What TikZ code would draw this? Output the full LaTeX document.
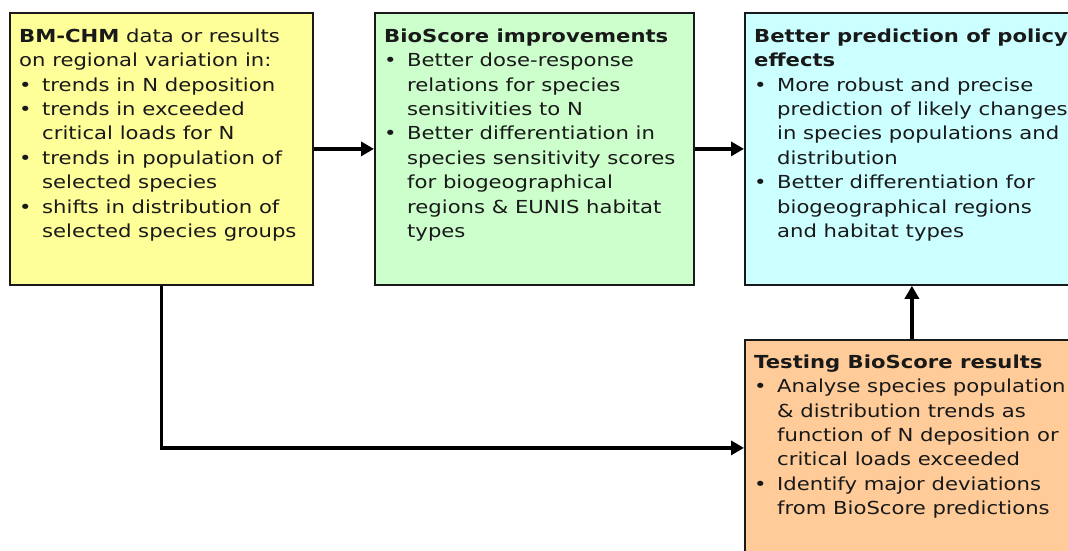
\documentclass[tikz,border=0pt]{standalone}
\usepackage{fontspec}
\setmainfont{DejaVu Sans}[FakeStretch=1.18]
\usetikzlibrary{arrows.meta}
\definecolor{ylw}{HTML}{FFFF99}
\definecolor{grn}{HTML}{CCFFCC}
\definecolor{cyn}{HTML}{CCFFFF}
\definecolor{org}{HTML}{FFCC99}
\newcommand\bitem[1]{\makebox[23bp][l]{•}#1}
\newcommand\cont[1]{\hspace*{23bp}#1}
\begin{document}
\begin{tikzpicture}[x=1bp,y=-1bp,
  box/.style={draw=black!90, line width=1.8bp, anchor=north west, inner sep=0pt},
  txt/.style={anchor=north west, inner sep=0pt, align=left, text=black!90, font=\fontsize{18}{24.5}\selectfont},
  arr/.style={line width=3.5bp, -{Triangle[length=13bp,width=14bp]}}]
\useasboundingbox (0,0) rectangle (1068,551);
\clip (0,0) rectangle (1068,551);
\node[box, fill=ylw, minimum width=303bp, minimum height=272bp] (bm) at (9,12) {};
\node[box, fill=grn, minimum width=319bp, minimum height=272bp] (bs) at (374,12) {};
\node[box, fill=cyn, minimum width=334bp, minimum height=272bp] (cy) at (744,12) {};
\node[box, fill=org, minimum width=334bp, minimum height=216bp] (ts) at (744,339) {};
\node[txt] (t1) at (19,28.5) {\textbf{BM-CHM} data or results\\
on regional variation in:\\
\bitem{trends in N deposition}\\
\bitem{trends in exceeded}\\
\cont{critical loads for N}\\
\bitem{trends in population of}\\
\cont{selected species}\\
\bitem{shifts in distribution of}\\
\cont{selected species groups}};
\node[txt] (t2) at (384,28.5) {\textbf{BioScore improvements}\\
\bitem{Better dose-response}\\
\cont{relations for species}\\
\cont{sensitivities to N}\\
\bitem{Better differentiation in}\\
\cont{species sensitivity scores}\\
\cont{for biogeographical}\\
\cont{regions \& EUNIS habitat}\\
\cont{types}};
\node[txt] (t3) at (754,28.5) {\textbf{Better prediction of policy}\\
\textbf{effects}\\
\bitem{More robust and precise}\\
\cont{prediction of likely changes}\\
\cont{in species populations and}\\
\cont{distribution}\\
\bitem{Better differentiation for}\\
\cont{biogeographical regions}\\
\cont{and habitat types}};
\node[txt] (t4) at (754,354.5) {\textbf{Testing BioScore results}\\
\bitem{Analyse species population}\\
\cont{\& distribution trends as}\\
\cont{function of N deposition or}\\
\cont{critical loads exceeded}\\
\bitem{Identify major deviations}\\
\cont{from BioScore predictions}};
\draw[arr] (bm.east) -- (bs.west);
\draw[arr] (bs.east) -- (cy.west);
\draw[arr] (ts.north) -- (cy.south);
\draw[arr] (bm.south) |- (ts.west);
\end{tikzpicture}
\end{document}
